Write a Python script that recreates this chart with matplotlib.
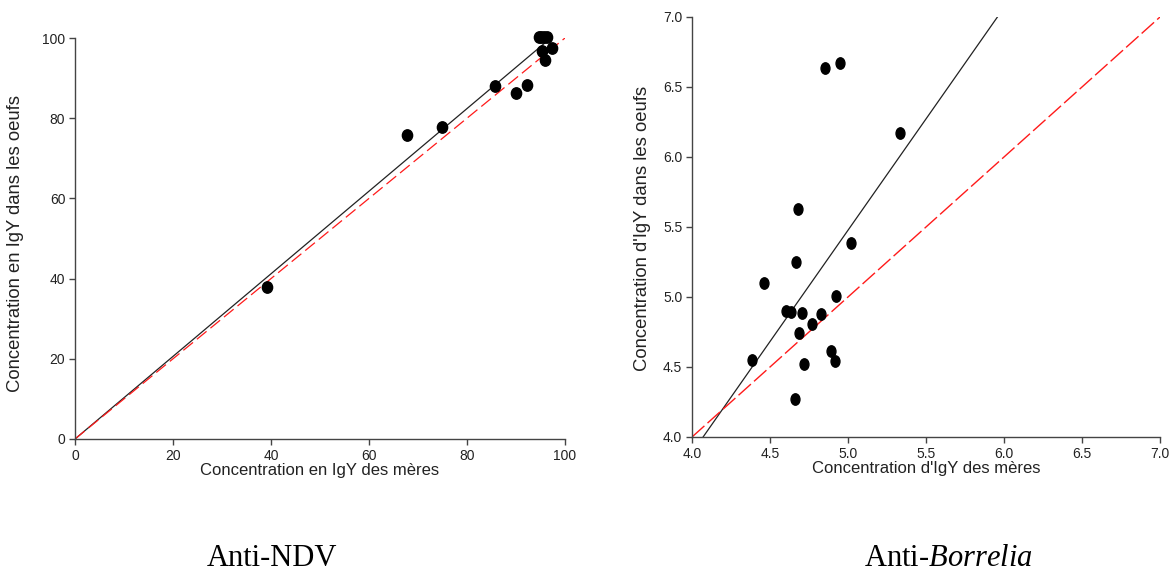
import numpy as np
import matplotlib
matplotlib.use("Agg")
import matplotlib.pyplot as plt
from matplotlib.path import Path
from matplotlib.transforms import Affine2D

plt.rcParams['font.family'] = ['Liberation Sans', 'DejaVu Sans']
plt.rcParams['mathtext.fontset'] = 'custom'
plt.rcParams['mathtext.rm'] = 'Liberation Serif'
plt.rcParams['mathtext.it'] = 'Liberation Serif:italic'

# ---- Anti-NDV data ----
ndv_mothers = [39.1, 67.8, 74.8, 85.7, 90.0, 92.2, 95.3, 95.9, 97.3, 94.6, 95.2, 95.8, 96.4]
ndv_eggs = [37.9, 75.9, 77.9, 88.0, 86.4, 88.3, 96.8, 94.5, 97.4, 100.2, 100.2, 100.2, 100.2]
ndv_fit_slope = 1.03
ndv_fit_intercept = 0.0
ndv_ticks = [0, 20, 40, 60, 80, 100]

# ---- Anti-Borrelia data ----
bor_mothers = [4.854, 4.948, 5.336, 4.678, 5.019, 4.668, 4.459, 4.920, 4.600, 4.633,
               4.704, 4.828, 4.772, 4.685, 4.892, 4.386, 4.915, 4.715, 4.659]
bor_eggs = [6.635, 6.669, 6.171, 5.632, 5.387, 5.253, 5.103, 5.010, 4.903, 4.896,
            4.886, 4.879, 4.808, 4.746, 4.617, 4.548, 4.546, 4.522, 4.272]
bor_fit_slope = 1.59
bor_fit_intercept = -2.473
bor_ticks = [4.0, 4.5, 5.0, 5.5, 6.0, 6.5, 7.0]

W, H = 1173, 576
fig = plt.figure(figsize=(W / 100, H / 100), dpi=100)


def ellipse_marker(aspect):
    circ = Path.unit_circle()
    return Path(Affine2D().scale(aspect, 1.0).transform(circ.vertices), circ.codes)


txt_col = '#222222'
spine_col = '#444444'
red = '#ff1a1a'


def style(ax, ticks, fmt):
    for s in ['top', 'right']:
        ax.spines[s].set_visible(False)
    for s in ['left', 'bottom']:
        ax.spines[s].set_color(spine_col)
        ax.spines[s].set_linewidth(1.0)
    ax.set_xticks(ticks)
    ax.set_yticks(ticks)
    ax.set_xticklabels([fmt(t) for t in ticks])
    ax.set_yticklabels([fmt(t) for t in ticks])
    ax.tick_params(direction='out', length=4, width=1, colors=spine_col,
                   labelcolor=txt_col, labelsize=10, pad=3)


# Left panel
ax1 = fig.add_axes([75 / W, 1 - 439 / H, 490 / W, 401 / H])
ax1.set_xlim(0, 100)
ax1.set_ylim(0, 100)
style(ax1, ndv_ticks, lambda t: f"{t:d}")
xs = np.array([0, max(ndv_mothers)])
ax1.plot(xs, ndv_fit_slope * xs + ndv_fit_intercept, color='#222222', lw=0.9)
ax1.plot([0, 100], [0, 100], color=red, lw=0.9, dashes=(10, 4))
ax1.plot(ndv_mothers, ndv_eggs, linestyle='none', marker=ellipse_marker(0.9), ms=8.2,
         color='black', clip_on=False, zorder=5)
ax1.set_xlabel("Concentration en IgY des mères", fontsize=12, color=txt_col)
ax1.set_ylabel("Concentration en IgY dans les oeufs", fontsize=13.3, color=txt_col)
ax1.xaxis.set_label_coords((320 - 75) / 490, -(463 - 439) / 401)
ax1.yaxis.set_label_coords(-(75 - 24) / 490, (439 - 243) / 401)

# Right panel
ax2 = fig.add_axes([692 / W, 1 - 437 / H, 468 / W, 420 / H])
ax2.set_xlim(4.0, 7.0)
ax2.set_ylim(4.0, 7.0)
style(ax2, bor_ticks, lambda t: f"{t:.1f}")
xr = np.array([4.0, 7.0])
ax2.plot(xr, bor_fit_slope * xr + bor_fit_intercept, color='#222222', lw=0.9)
ax2.plot([4.0, 7.0], [4.0, 7.0], color=red, lw=1.0, dashes=(12, 3))
ax2.plot(bor_mothers, bor_eggs, linestyle='none', marker=ellipse_marker(0.78), ms=8.2,
         color='black', clip_on=False, zorder=5)
ax2.set_xlabel("Concentration d'IgY des mères", fontsize=12, color=txt_col)
ax2.set_ylabel("Concentration d'IgY dans les oeufs", fontsize=13.3, color=txt_col)
ax2.xaxis.set_label_coords((926 - 692) / 468, -(461 - 437) / 420)
ax2.yaxis.set_label_coords(-(692 - 651) / 468, (437 - 228) / 420)

# Captions
fig.text(272 / W, 1 - 559 / H, "Anti-NDV", fontsize=22, family='Liberation Serif',
         ha='center', va='center', color='black')
fig.text(948 / W, 1 - 559 / H, r"Anti-$\it{Borrelia}$", fontsize=22,
         family='Liberation Serif', ha='center', va='center', color='black')

fig.savefig("out.png", dpi=100)
